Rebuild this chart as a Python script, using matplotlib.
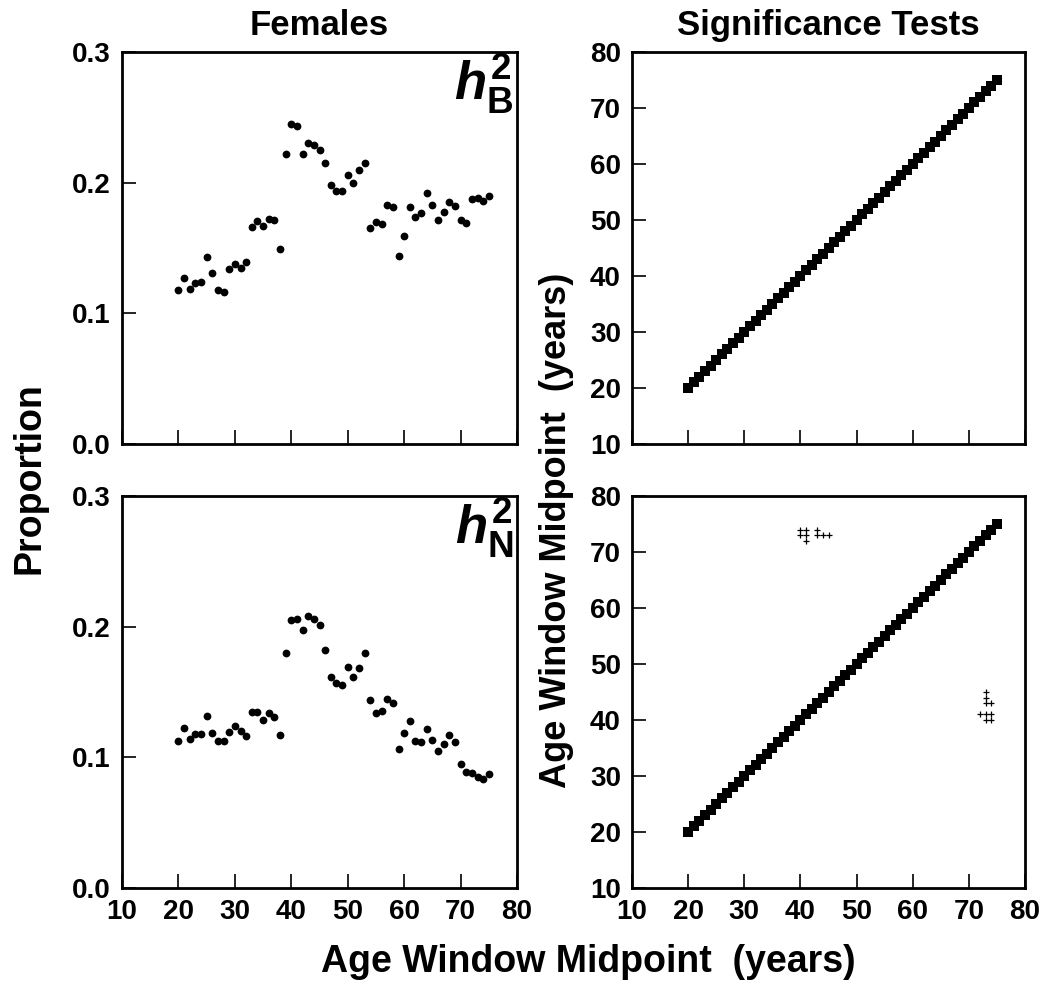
import matplotlib
matplotlib.use("Agg")
import matplotlib.pyplot as plt
import numpy as np

plt.rcParams['font.family'] = ['Liberation Sans', 'DejaVu Sans']
plt.rcParams['font.weight'] = 'bold'
plt.rcParams['mathtext.fontset'] = 'custom'
plt.rcParams['mathtext.it'] = 'Liberation Sans:italic:bold'
plt.rcParams['mathtext.rm'] = 'Liberation Sans:bold'
plt.rcParams['mathtext.bf'] = 'Liberation Sans:bold'

# ---- data ----
ages = list(range(20, 76))
h2_broad = [0.118, 0.127, 0.119, 0.1235, 0.124, 0.143, 0.131, 0.118, 0.1166, 0.134,
            0.138, 0.135, 0.139, 0.166, 0.171, 0.167, 0.172, 0.1717, 0.149, 0.222,
            0.245, 0.2436, 0.2217, 0.2306, 0.229, 0.2253, 0.215, 0.198, 0.194, 0.194,
            0.206, 0.200, 0.2095, 0.2148, 0.165, 0.170, 0.168, 0.1827, 0.1816, 0.1439,
            0.159, 0.181, 0.174, 0.1765, 0.1923, 0.1827, 0.1714, 0.1773, 0.1855, 0.1824,
            0.1714, 0.169, 0.1878, 0.1883, 0.1857, 0.1898]
h2_narrow = [0.1125, 0.1222, 0.1138, 0.1179, 0.1179, 0.1319, 0.1184, 0.1128, 0.1125, 0.1196,
             0.1242, 0.1199, 0.1166, 0.1347, 0.1347, 0.1288, 0.1342, 0.1309, 0.1168, 0.1798,
             0.2049, 0.2061, 0.1972, 0.2079, 0.2059, 0.2013, 0.1819, 0.1615, 0.1569, 0.1554,
             0.1689, 0.1612, 0.1686, 0.1798, 0.1439, 0.1337, 0.1354, 0.1446, 0.1413, 0.1061,
             0.1189, 0.1278, 0.1128, 0.1115, 0.1219, 0.1133, 0.1051, 0.1100, 0.1173, 0.1115,
             0.0947, 0.0885, 0.0883, 0.0852, 0.0832, 0.0872]

# significance-test diagonal (window compared with itself)
diag_x = ages
diag_y = ages

# significant differences in the narrow-sense panel (window i vs window j)
sig_x = [40, 40, 41, 41, 41, 43, 43, 44, 45,
         73, 73, 73, 74, 72, 73, 74, 73, 74]
sig_y = [73, 74, 72, 73, 74, 73, 74, 73, 73,
         45, 44, 43, 43, 41, 41, 41, 40, 40]

prop_ticks = [0.0, 0.1, 0.2, 0.3]
prop_ticklabels = ['0.0', '0.1', '0.2', '0.3']
age_ticks = [10, 20, 30, 40, 50, 60, 70, 80]

# ---- figure ----
W, H = 1045, 982
fig = plt.figure(figsize=(W / 100, H / 100), dpi=100)

def ax_at(x0, y0, x1, y1):
    return fig.add_axes([x0 / W, 1 - y1 / H, (x1 - x0) / W, (y1 - y0) / H])

ax_tl = ax_at(122, 52, 517, 444)
ax_bl = ax_at(122, 496, 517, 888)
ax_tr = ax_at(632, 52, 1025, 444)
ax_br = ax_at(632, 496, 1025, 888)

FS = 20
for ax in (ax_tl, ax_bl, ax_tr, ax_br):
    ax.set_xlim(10, 80)
    ax.set_xticks(age_ticks)
    ax.tick_params(direction='in', length=10, width=1.2, labelsize=FS,
                   top=False, right=False, pad=8)
    for s in ax.spines.values():
        s.set_linewidth(2.0)

for ax in (ax_tl, ax_bl):
    ax.set_ylim(0, 0.3)
    ax.set_yticks(prop_ticks)
    ax.set_yticklabels(prop_ticklabels)
for ax in (ax_tr, ax_br):
    ax.set_ylim(10, 80)
    ax.set_yticks(age_ticks)
for ax in (ax_tl, ax_tr):
    ax.set_xticklabels([])

ax_tl.plot(ages, h2_broad, 'o', color='black', markersize=5.6, markeredgewidth=0)
ax_bl.plot(ages, h2_narrow, 'o', color='black', markersize=5.6, markeredgewidth=0)

for ax in (ax_tr, ax_br):
    ax.plot(diag_x, diag_y, 's', color='black', markersize=7, markeredgewidth=0)
ax_br.plot(sig_x, sig_y, '+', color='black', markersize=5, markeredgewidth=0.9)

ax_tl.text(0.99, 1.0, r'$h^2_{\mathrm{B}}$', transform=ax_tl.transAxes,
           ha='right', va='top', fontsize=38)
ax_bl.text(0.99, 1.0, r'$h^2_{\mathrm{N}}$', transform=ax_bl.transAxes,
           ha='right', va='top', fontsize=38)

ax_tl.set_title('Females', fontsize=25, pad=12, fontweight='bold')
ax_tr.set_title('Significance Tests', fontsize=25, pad=12, fontweight='bold')

fig.text(30 / W, 1 - 478 / H, 'Proportion', rotation=90, ha='center', va='center',
         fontsize=27, fontweight='bold')
fig.text(557 / W, 1 - 530 / H, 'Age Window Midpoint  (years)', rotation=90,
         ha='center', va='center', fontsize=26, fontweight='bold')
fig.text(588 / W, 1 - 962 / H, 'Age Window Midpoint  (years)', ha='center', va='center',
         fontsize=27, fontweight='bold')

fig.savefig('out.png', dpi=100)
